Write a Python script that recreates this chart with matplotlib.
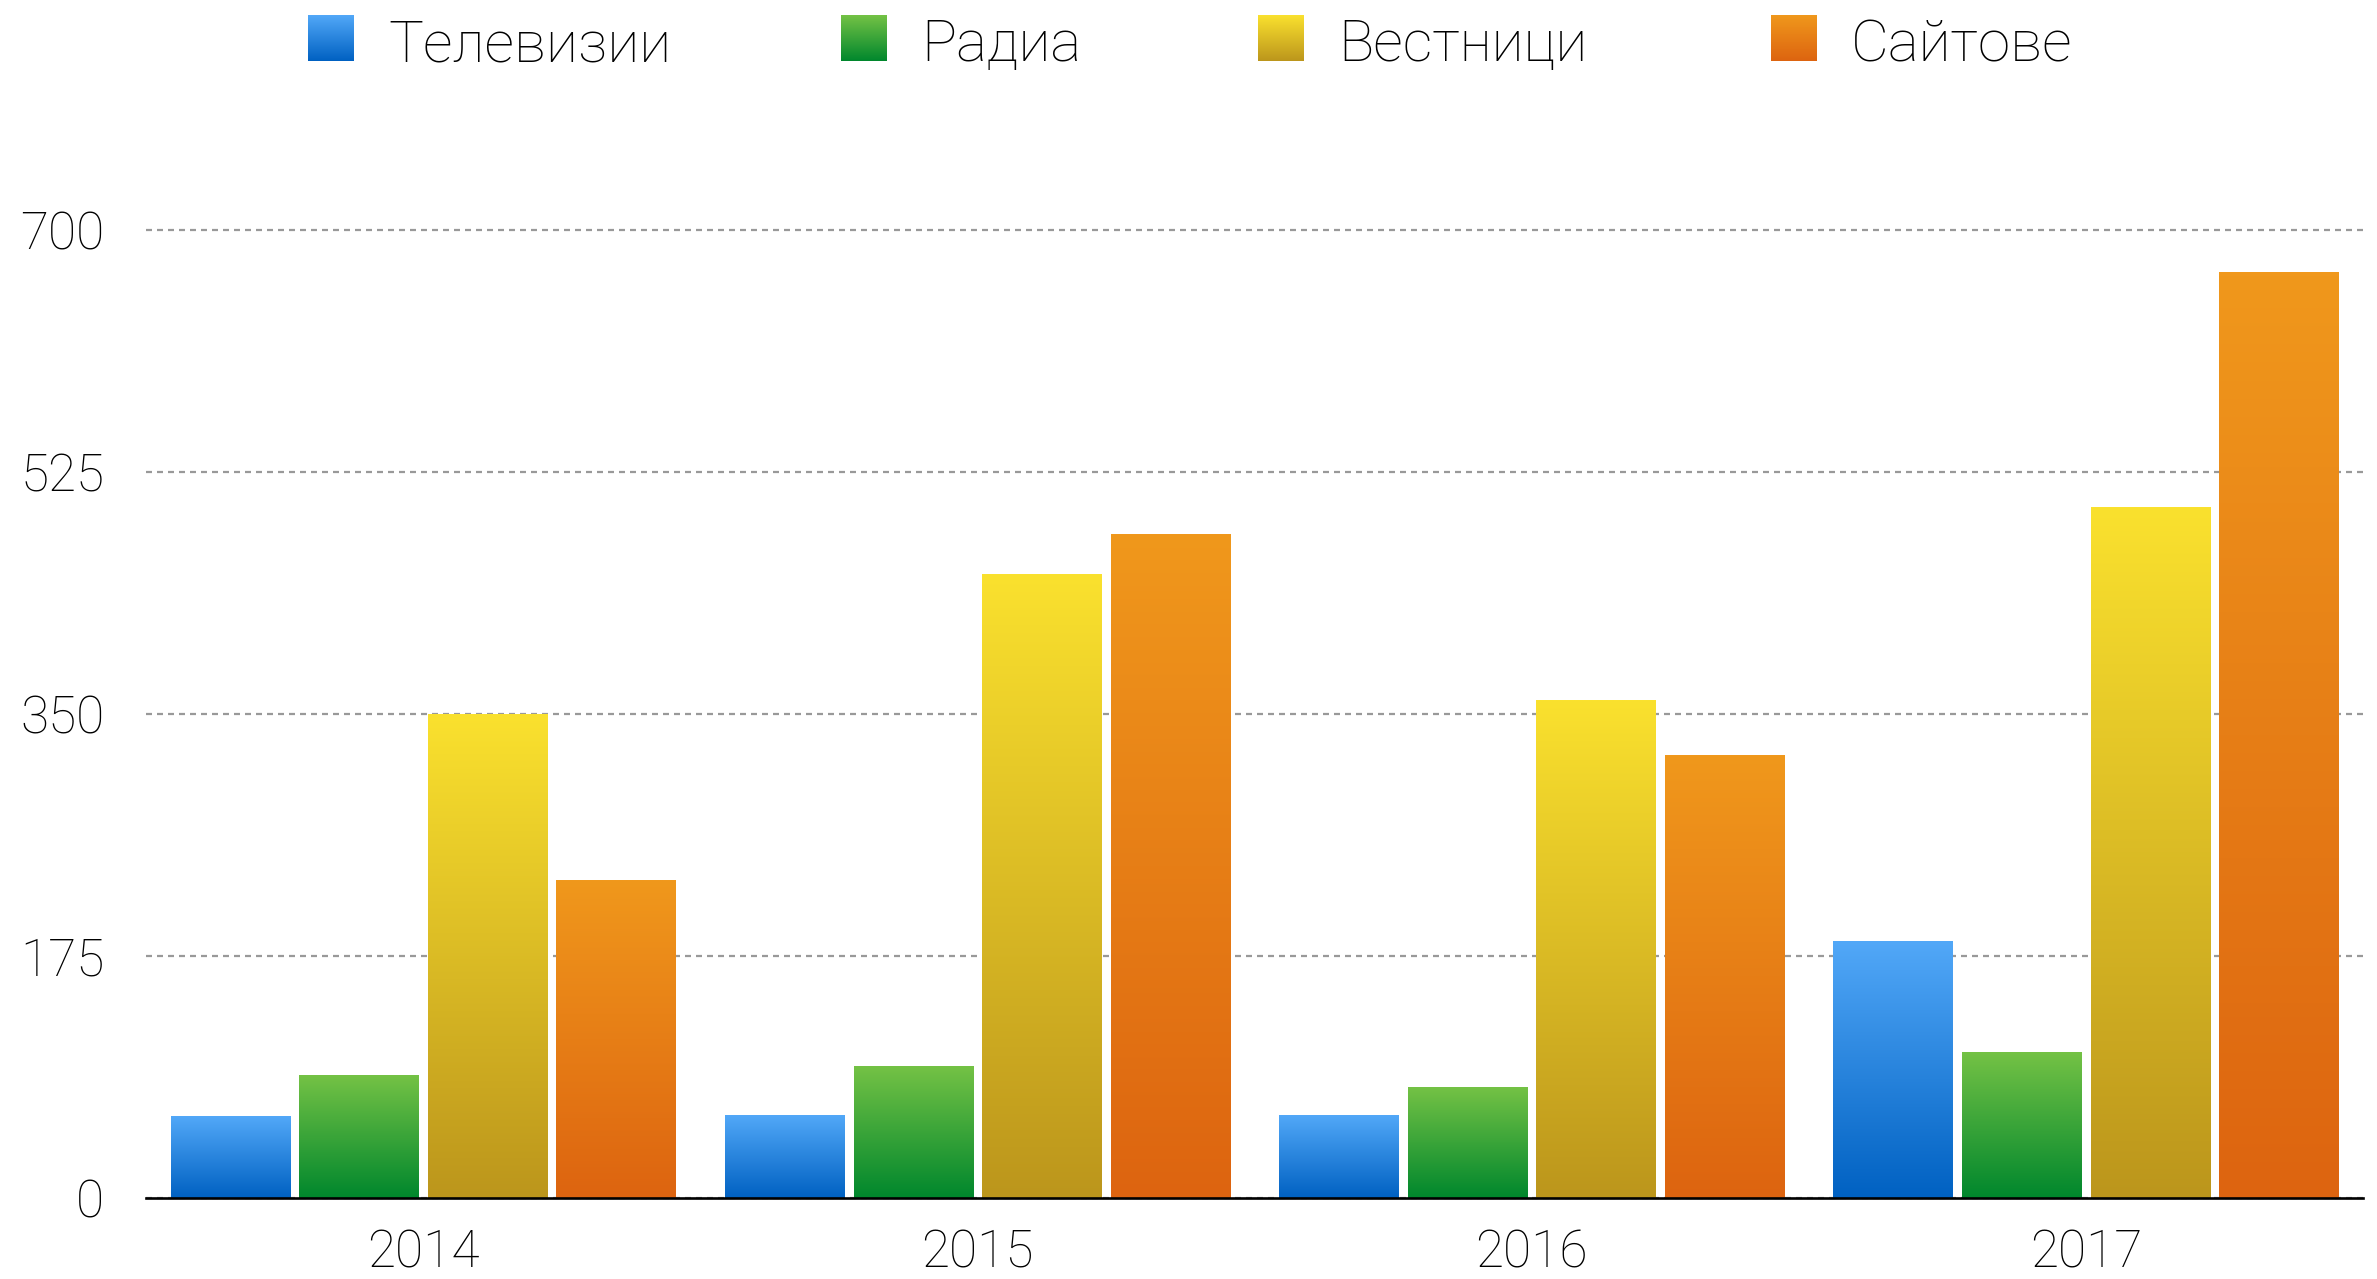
import numpy as np
import matplotlib
matplotlib.use("Agg")
from matplotlib import pyplot as plt
from matplotlib.colors import LinearSegmentedColormap

years = ["2014", "2015", "2016", "2017"]
series = ["Телевизии", "Радиа", "Вестници", "Сайтове"]

tv = [59, 60, 60, 186]
radio = [89, 95, 80, 105]
papers = [350, 451, 360, 500]
sites = [230, 480, 320, 670]

y_ticks = [0, 175, 350, 525, 700]

# gradient top / bottom colours per series
top_colors = ["#52a8f8", "#74c245", "#fae12e", "#f0981c"]
bottom_colors = ["#0061c2", "#00872d", "#bc961c", "#dd6410"]

plt.rcParams["font.family"] = ["Roboto", "DejaVu Sans"]
plt.rcParams["font.weight"] = "light"

W, H = 2377, 1279
fig = plt.figure(figsize=(W / 100, H / 100), dpi=100)

ax_left, ax_right = 146 / W, 2363 / W
ax_bottom, ax_top = 1 - 1197.6 / H, 1 - 230.4 / H
ax = fig.add_axes([ax_left, ax_bottom, ax_right - ax_left, ax_top - ax_bottom])

x = np.arange(len(years))
width = 0.215
step = 0.232
grad = np.linspace(1, 0, 256).reshape(-1, 1)

for i, vals in enumerate([tv, radio, papers, sites]):
    cmap = LinearSegmentedColormap.from_list("g%d" % i, [bottom_colors[i], top_colors[i]])
    bars = ax.bar(x + (i - 1.5) * step, vals, width=width, color=top_colors[i])
    for b in bars:
        x0, y0 = b.get_x(), b.get_y()
        ax.imshow(grad, cmap=cmap, aspect="auto", zorder=2,
                  extent=[x0, x0 + b.get_width(), y0, y0 + b.get_height()])
        b.set_visible(False)

ax.set_xlim(-0.5, len(years) - 0.5)
ax.set_ylim(0, 700)
ax.set_xticks(x)
ax.set_xticklabels(years)
ax.set_yticks(y_ticks)
ax.set_yticklabels([str(t) for t in y_ticks])
ax.tick_params(axis="x", length=0, pad=22, labelsize=37)
ax.tick_params(axis="y", length=0, pad=30, labelsize=37)

for s in ["top", "right", "left"]:
    ax.spines[s].set_visible(False)
ax.spines["bottom"].set_linewidth(1.9)
ax.spines["bottom"].set_color("black")
ax.spines["bottom"].set_zorder(3)

ax.set_axisbelow(True)
ax.yaxis.grid(True, color="#999999", linewidth=1.6, linestyle=(0, (2.7, 2.25)))
for gl in ax.yaxis.get_gridlines():
    gl.set_clip_on(False)

# legend drawn by hand so the swatches can carry the gradient
sq_left = [308, 841, 1258, 1771]
sq_size = 46
for i, name in enumerate(series):
    cmap = LinearSegmentedColormap.from_list("l%d" % i, [bottom_colors[i], top_colors[i]])
    sax = fig.add_axes([sq_left[i] / W, 1 - 61 / H, sq_size / W, sq_size / H])
    sax.imshow(grad, cmap=cmap, aspect="auto")
    sax.axis("off")
    fig.text((sq_left[i] + 80) / W, 1 - 61 / H, name, fontsize=42,
             ha="left", va="baseline")

fig.savefig("out.png", dpi=100)
